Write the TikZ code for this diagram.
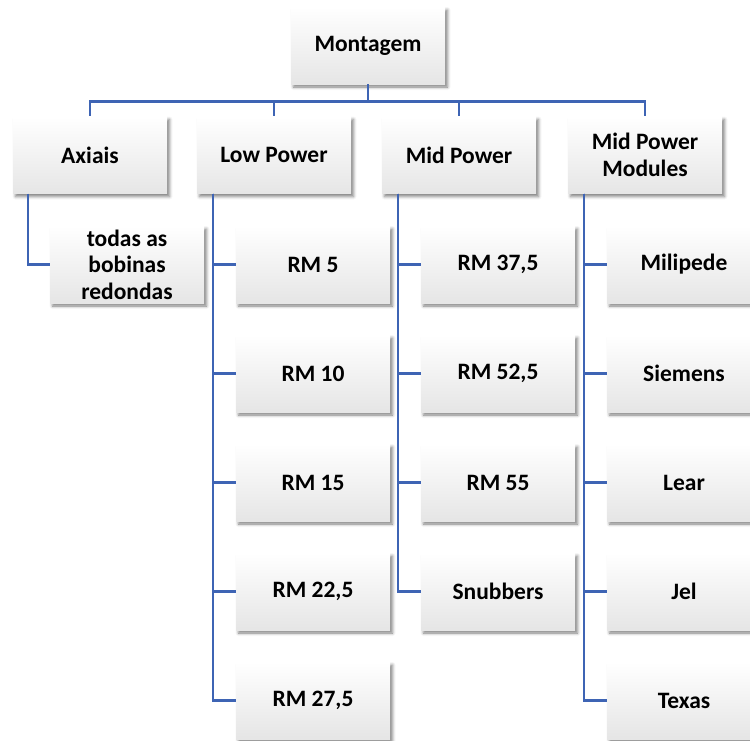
\documentclass[tikz,border=0pt]{standalone}
\usepackage{fontspec}
\setmainfont{Carlito}
\usetikzlibrary{shadows.blur}
\definecolor{linkblue}{RGB}{62,100,180}
\tikzset{
  box/.style={rectangle, minimum width=154pt, minimum height=77pt, inner sep=0pt,
    top color=white, bottom color=black!10, draw=none, align=center,
    font=\fontsize{23.5}{26.5}\selectfont\bfseries,
    blur shadow={shadow xshift=2.5pt, shadow yshift=-3pt, shadow blur radius=3pt, shadow opacity=50}},
  link/.style={draw=linkblue, line width=2.6pt}
}
\begin{document}
\begin{tikzpicture}[x=1pt,y=1pt]
  \useasboundingbox (0,0) rectangle (750,-740);
  % root
  \node[box] (root) at (368,-45.5) {Montagem};
  % first level
  \node[box] (ax)  at (90,-155)  {Axiais};
  \node[box] (lp)  at (274,-155) {Low Power};
  \node[box] (mp)  at (459,-155) {Mid Power};
  \node[box] (mpm) at (645,-155) {Mid Power\\Modules};
  % children of Axiais
  \node[box] (tb) at (127,-264.5) {todas as\\bobinas\\redondas};
  % children of Low Power
  \node[box] (rm5)  at (313,-264.5) {RM 5};
  \node[box] (rm10) at (313,-373.5) {RM 10};
  \node[box] (rm15) at (313,-482.5) {RM 15};
  \node[box] (rm22) at (313,-591.5) {RM 22,5};
  \node[box] (rm27) at (313,-700.5) {RM 27,5};
  % children of Mid Power
  \node[box] (rm37) at (498,-264.5) {RM 37,5};
  \node[box] (rm52) at (498,-373.5) {RM 52,5};
  \node[box] (rm55) at (498,-482.5) {RM 55};
  \node[box] (snb)  at (498,-591.5) {Snubbers};
  % children of Mid Power Modules
  \node[box] (mil) at (684,-264.5) {Milipede};
  \node[box] (sie) at (684,-373.5) {Siemens};
  \node[box] (lea) at (684,-482.5) {Lear};
  \node[box] (jel) at (684,-591.5) {Jel};
  \node[box] (tex) at (684,-700.5) {Texas};
  % connectors: root to first level
  \foreach \t in {ax,lp,mp,mpm}
    \draw[link] (root.south) -- ++(0,-17) -| (\t.north);
  % connectors: first level to children
  \draw[link] ([xshift=15pt]ax.south west) |- (tb.west);
  \foreach \c in {rm5,rm10,rm15,rm22,rm27}
    \draw[link] ([xshift=16pt]lp.south west) |- (\c.west);
  \foreach \c in {rm37,rm52,rm55,snb}
    \draw[link] ([xshift=16pt]mp.south west) |- (\c.west);
  \foreach \c in {mil,sie,lea,jel,tex}
    \draw[link] ([xshift=16pt]mpm.south west) |- (\c.west);
\end{tikzpicture}
\end{document}
